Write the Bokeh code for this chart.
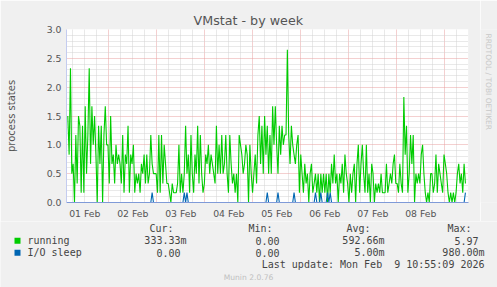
import math
from bokeh.plotting import figure
from bokeh.layouts import column, row
from bokeh.models import FixedTicker, Title, ColumnDataSource, Range1d
from bokeh.core.properties import value
from bokeh.embed import file_html
from bokeh.resources import INLINE

# ---------------- data ----------------
# running processes, 30-min averages, 01 Feb -> 09 Feb 2026
running_part1 = [1.5, 0.83, 2.33, 0.5, 0.67, 0, 1.17, 0.33, 1.5, 1.33,
                 0.17, 1.33, 0.17, 1.67, 0.5, 1.17, 2.33, 0.67, 1.67, 1.0,
                 1.5, 0.83, 0, 1.33, 0.67, 1.33, 0, 1.17, 1.67, 1.0,
                 1.0, 0.33, 1.5, 0.67, 0.83, 0.33, 1.0, 0.67, 0.83, 0.67,
                 0.33, 1.17, 0.17, 0.83, 0.67, 1.33, 0.17, 0.83, 0.67, 1.0,
                 0.17, 0.5, 0.33, 0.5, 0.17, 0.67, 0.5, 0.83, 0.33, 0.83,
                 0.33, 0.5, 1.17, 0.67, 0.5, 0.5, 0.5, 0.17, 1.17, 0.17,
                 1.17]
running_part2 = [0.33, 1.0, 0.67, 0.33, 0.33, 0.17, 0, 0.33, 0.17, 0.17,
                 0.17, 0.33, 1.0, 0.17, 0.5, 0.17, 0.5, 1.33, 0.5, 0.83,
                 0.17, 1.17, 0.5, 0.17, 0.83, 0.5, 1.33, 0.33, 1.17, 0.5,
                 0.17, 0.33, 0.83, 0.67, 1.0, 0.5, 0.83, 0.67, 0.5, 0.33,
                 1.33, 0.5, 1.0, 0.5, 1.17, 0.5, 0.67, 1.17, 0.5, 0.17,
                 1.17, 0.67, 0.33, 0.5, 0.17, 0.5, 0, 1.17, 1.0, 0.83,
                 0.5, 0.67, 1.0, 0.83, 0, 1.0, 0.5, 0.17, 0.5, 0.83,
                 0.33, 1.17, 1.5, 0.67, 1.33, 0.5]
running_part3 = [1.5, 0.83, 1.33, 0.5, 1.17, 0.5, 1.67, 1.0, 1.67, 1.0,
                 0.5, 1.33, 0.83, 1.33, 1.0, 1.17, 1.17, 2.65, 1.17, 0.67,
                 1.33, 1.0, 0.83, 0.67, 1.0, 1.17, 0.17, 0.83, 0.5, 0.17,
                 0.67, 0.33, 0.5, 0, 0.5, 0.67, 0.17, 0.33, 0.5, 0.17,
                 0.5, 0, 0.5, 0.17, 0.5, 0.17, 0.5, 0, 0.5, 0.17,
                 0.67, 0.33, 0.83, 0.33, 0.5, 0, 0.5, 0.33, 0.67, 0.17,
                 0.83, 0.5, 0.33, 0, 0.5, 0.17, 0.5, 0.67, 0, 0.67,
                 1.0, 0.17, 0.67, 1.0, 0.5]
running_part4 = [0.17, 1.0, 0.17, 0.5, 0, 0.67, 0.5, 0, 0.33, 0.17,
                 0.33, 0.17, 0.5, 0.17, 0.17, 0.17, 0.67, 0.17, 0.33, 0.5,
                 0.33, 0.67, 0.83, 0.33, 0.33, 0.17, 0.67, 0.33, 0.17, 1.83,
                 0.83, 1.33, 0.17, 0.5, 1.17, 0.67, 1.17, 0, 0.5, 0.33,
                 0.5, 0.33, 0.83, 1.0, 0.5, 0.17, 0, 0.17, 0, 0.5,
                 0.5, 0.17, 0.33, 0.83, 0.17, 0.67, 0.5, 0.33, 0.17, 0.83,
                 0.67, 0.5, 0.17, 0, 0.17, 0, 0.17, 0, 0.17, 0.5,
                 0.67, 0.33, 0.5, 0.17, 0.67, 0.33]

# I/O sleep: zero except these short spikes (days since 01 Feb 00:00)
io_sleep_spike_days = [1.91, 2.58, 2.63, 4.29, 4.52, 4.85, 5.31, 5.42, 5.55, 5.60, 8.42]
io_sleep_spike_values = [0.17, 0.17, 0.17, 0.17, 0.17, 0.17, 0.17, 0.17, 0.17, 0.17, 0.17]

first_sample_day = 0.146   # days since 01 Feb 00:00
last_sample_day = 8.43

day_labels = ["01 Feb", "02 Feb", "03 Feb", "04 Feb", "05 Feb", "06 Feb", "07 Feb", "08 Feb"]
y_ticks = [0.0, 0.5, 1.0, 1.5, 2.0, 2.5, 3.0]

series_names = ["running", "I/O sleep"]
legend_header = ["Cur:", "Min:", "Avg:", "Max:"]
legend_running = ["333.33m", "0.00", "592.66m", "5.97"]
legend_io = ["0.00", "0.00", "5.00m", "980.00m"]
last_update = "Last update: Mon Feb \u00a09 10:55:09 2026"
footer = "Munin 2.0.76"
side_credit = "RRDTOOL / TOBI OETIKER"
title_text = "VMstat - by week"

# ---------------- build series ----------------
running = running_part1 + running_part2 + running_part3 + running_part4
n = len(running)
step = (last_sample_day - first_sample_day) / (n - 1)
t = [first_sample_day + i * step for i in range(n)]
io_sleep = [0.0] * n
for d, v in zip(io_sleep_spike_days, io_sleep_spike_values):
    idx = int(round((d - first_sample_day) / step))
    if 0 <= idx < n:
        io_sleep[idx] = v

src = ColumnDataSource(dict(t=t, running=running, io=io_sleep))

GREEN = "#00CC00"
BLUE = "#0066B3"
BACK = "#F0F0F0"
TXT = "#444444"
AX = "#C4CCF0"

W, H = 497, 287
MAIN_W, MAIN_H = 480, 221
FL, FR, FT, FB = 66, 468, 29, 203   # frame edges (canvas px)

# ---------------- main chart ----------------
p = figure(width=MAIN_W, height=MAIN_H, output_backend="svg", toolbar_location=None,
           x_range=(0.119, 8.494), y_range=(0, 3.0),
           min_border_left=FL, min_border_right=MAIN_W - FR,
           min_border_top=FT, min_border_bottom=MAIN_H - FB,
           background_fill_color="#FFFFFF", border_fill_color=BACK,
           outline_line_color=None)

p.title = Title(text=title_text, align="left", offset=193 - FL, standoff=4,
                vertical_align="bottom", text_font="DejaVu Sans", text_font_size="12.7px",
                text_font_style="normal", text_color="#555555")

day_bounds = [float(i) for i in range(1, 9)]
six_hours = [i / 4 for i in range(0, 36) if i % 4 != 0]
p.xgrid.ticker = FixedTicker(ticks=day_bounds, minor_ticks=six_hours)
y_minor = [i / 10 for i in range(0, 31) if i % 5 != 0]
p.ygrid.ticker = FixedTicker(ticks=y_ticks, minor_ticks=y_minor)
for g in (p.xgrid[0], p.ygrid[0]):
    g.grid_line_color = "#E8A0A0"
    g.grid_line_dash = "1 1"
    g.minor_grid_line_color = "#D2D2D2"
    g.minor_grid_line_dash = "1 1"

p.xaxis.ticker = FixedTicker(ticks=[i + 0.5 for i in range(len(day_labels))])
p.xaxis.major_label_overrides = {i + 0.5: lbl for i, lbl in enumerate(day_labels)}
p.yaxis.ticker = FixedTicker(ticks=y_ticks)
p.yaxis.major_label_overrides = {v: f"{v:.1f}" for v in y_ticks}
for ax in (p.xaxis[0], p.yaxis[0]):
    ax.axis_line_color = AX
    ax.major_tick_line_color = None
    ax.minor_tick_line_color = None
    ax.major_tick_out = 0
    ax.major_tick_in = 0
    ax.minor_tick_out = 0
    ax.minor_tick_in = 0
    ax.major_label_text_font = "DejaVu Sans"
    ax.major_label_text_font_size = "9.3px"
    ax.major_label_text_color = "#555555"
    ax.major_label_standoff = 5
p.xaxis.axis_line_color = "#7F9AD8"
p.yaxis.axis_label = "process states"
p.yaxis.axis_label_text_font = "DejaVu Sans"
p.yaxis.axis_label_text_font_size = "10px"
p.yaxis.axis_label_text_font_style = "normal"
p.yaxis.axis_label_text_color = "#555555"
p.yaxis.axis_label_standoff = 27

p.line("t", "running", source=src, line_color=GREEN, line_width=1.1)
p.line("t", "io", source=src, line_color=BLUE, line_width=1.1)


def canvas_fig(x0, x1, y0, y1):
    """A figure whose frame is the whole area, ranges = canvas pixels (y down)."""
    f = figure(width=x1 - x0, height=y1 - y0, output_backend="svg", toolbar_location=None,
               x_range=Range1d(x0, x1), y_range=Range1d(y1, y0),
               x_axis_location=None, y_axis_location=None,
               min_border=0, min_border_left=0, min_border_right=0,
               min_border_top=0, min_border_bottom=0,
               background_fill_color=BACK, border_fill_color=BACK, outline_line_color=None)
    f.grid.visible = False
    return f


# ---------------- side credit strip ----------------
side = canvas_fig(MAIN_W, W, 0, MAIN_H)
side.text(x=[488], y=[5], text=[side_credit], angle=-math.pi / 2,
          text_font=value("DejaVu Sans"), text_font_size=value("7.5px"),
          text_color="#C8C8C8", text_align="left", text_baseline="middle")

# ---------------- legend area ----------------
leg = canvas_fig(0, W, MAIN_H, H)
leg.text(x=[173, 272, 370, 471], y=[228] * 4, text=legend_header,
         text_font=value("DejaVu Sans Mono"), text_font_size=value("10px"),
         text_color=TXT, text_align="right", text_baseline="middle")
leg.rect(x=[17, 17], y=[240.3, 252.2], width=6, height=6,
         fill_color=[GREEN, BLUE], line_color=None)
leg.text(x=[27, 27], y=[240, 252], text=series_names,
         text_font=value("DejaVu Sans Mono"), text_font_size=value("10px"),
         text_color=TXT, text_align="left", text_baseline="middle")
leg.text(x=[186, 279, 384, 478], y=[240] * 4, text=legend_running,
         text_font=value("DejaVu Sans Mono"), text_font_size=value("10px"),
         text_color=TXT, text_align="right", text_baseline="middle")
leg.text(x=[180, 279, 384, 484], y=[252] * 4, text=legend_io,
         text_font=value("DejaVu Sans Mono"), text_font_size=value("10px"),
         text_color=TXT, text_align="right", text_baseline="middle")
leg.text(x=[484], y=[264], text=[last_update],
         text_font=value("DejaVu Sans Mono"), text_font_size=value("10px"),
         text_color=TXT, text_align="right", text_baseline="middle")
leg.text(x=[248], y=[276.5], text=[footer],
         text_font=value("DejaVu Sans"), text_font_size=value("7.6px"),
         text_color="#C0C0C0", text_align="center", text_baseline="middle")

layout = column(row(p, side, spacing=0), leg, spacing=0)
open("out.html", "w").write(file_html(layout, INLINE))
